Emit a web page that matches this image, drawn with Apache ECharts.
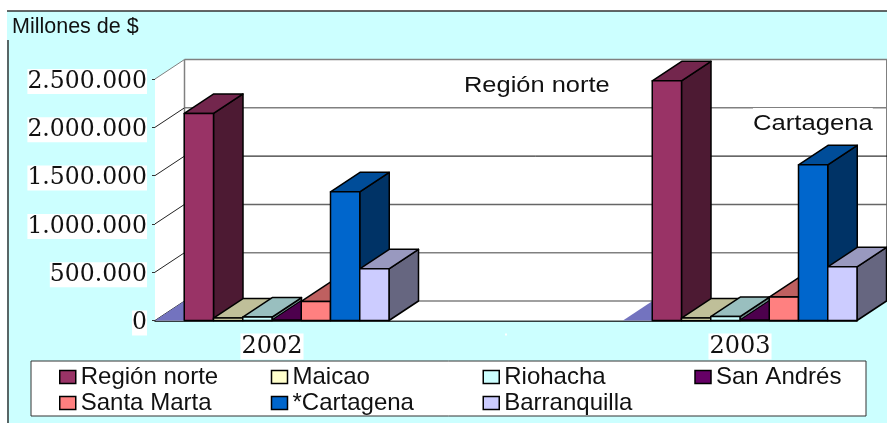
<!doctype html>
<html>
<head>
    <meta charset="utf-8">
    <title>Millones de $</title>
    <style>
        html, body { margin: 0; padding: 0; background: #fff; }
        #chart { width: 887px; height: 423px; }
    </style>
</head>
<body>
<div id="chart"></div>
<script src="https://cdn.jsdelivr.net/npm/echarts@6/dist/echarts.min.js"></script>
<script>
    // datos (la categoria central va vacia)
    var categories = ['2002', '', '2003'];
    var yTicks = [0, 500000, 1000000, 1500000, 2000000, 2500000];
    var yTickLabels = ['0', '500.000', '1.000.000', '1.500.000', '2.000.000', '2.500.000'];

    var sinNombre = [0, null, 0];
    var regionNorte = [2143000, null, 2481000];
    var maicao = [25000, null, 25000];
    var riohacha = [35000, null, 41000];
    var sanAndres = [5000, null, 5000];
    var santaMarta = [197000, null, 242000];
    var cartagena = [1332000, null, 1612000];
    var barranquilla = [535000, null, 556000];

    var legendNames = ['Región norte', 'Maicao', 'Riohacha', 'San Andrés', 'Santa Marta', '*Cartagena', 'Barranquilla'];

    // perspectiva falsa de Excel
    var depthX = 29.5;
    var depthY = -19.5;
    var wallRight = 887;
    var gridColors = ['#808080', '#808080', '#666', '#000', '#808080', '#808080'];

    var chart = echarts.init(document.getElementById('chart'));

    function renderWall(params, api) {
        var p = api.coord([0, api.value(0)]);
        var x0 = params.coordSys.x;
        var y = p[1];
        var children = [];
        var lineW = params.dataIndex === 3 ? 1 : 1.5;
        children.push({
            type: 'line',
            shape: {x1: x0, y1: y, x2: x0 + depthX, y2: y + depthY},
            style: {stroke: params.dataIndex === 5 ? '#808080' : '#222', lineWidth: 1}
        });
        children.push({
            type: 'line',
            shape: {x1: x0 + depthX, y1: y + depthY, x2: wallRight, y2: y + depthY},
            style: {stroke: gridColors[params.dataIndex], lineWidth: lineW}
        });
        return {type: 'group', children: children};
    }

    function renderWallFaces(params, api) {
        var s = params.coordSys;
        var b = s.y + s.height;
        return {
            type: 'group',
            children: [
                {type: 'polygon', shape: {points: [[s.x, b], [s.x + depthX, b + depthY], [wallRight, b + depthY], [wallRight, s.y + depthY], [s.x + depthX, s.y + depthY], [s.x, s.y]]}, style: {fill: '#fff'}},
                {type: 'polygon', shape: {points: [[s.x, b], [s.x + s.width, b], [wallRight, b + depthY], [s.x + depthX, b + depthY]]}, style: {fill: '#fff'}},
                {type: 'line', shape: {x1: s.x + depthX, y1: s.y + depthY, x2: s.x + depthX, y2: b + depthY}, style: {stroke: '#808080', lineWidth: 1.5}},
                {type: 'line', shape: {x1: wallRight - 0.5, y1: s.y + depthY, x2: wallRight - 0.5, y2: b + depthY}, style: {stroke: '#808080', lineWidth: 1}}
            ]
        };
    }

    function makeBars(name, values, slot, front, top, side, lineW) {
        return {
            name: name,
            type: 'custom',
            z: 3,
            itemStyle: {color: front},
            encode: {x: 0, y: 1},
            data: values.map(function (v, i) { return [i, v]; }),
            renderItem: function (params, api) {
                if (api.value(1) == null || isNaN(api.value(1))) {
                    return;
                }
                var w = api.size([1, 0])[0] / 8;
                var base = api.coord([api.value(0), 0]);
                var head = api.coord([api.value(0), api.value(1)]);
                var x1 = base[0] - 4 * w + slot * w;
                var x2 = x1 + w;
                var y0 = base[1];
                var y1 = head[1];
                var edge = {stroke: '#000', lineWidth: lineW, lineJoin: 'round'};
                return {
                    type: 'group',
                    children: [
                        {type: 'polygon', shape: {points: [[x2, y0], [x2 + depthX, y0 + depthY], [x2 + depthX, y1 + depthY], [x2, y1]]}, style: Object.assign({fill: side}, edge)},
                        {type: 'polygon', shape: {points: [[x1, y1], [x2, y1], [x2 + depthX, y1 + depthY], [x1 + depthX, y1 + depthY]]}, style: Object.assign({fill: top}, edge)},
                        {type: 'polygon', shape: {points: [[x1, y0], [x2, y0], [x2, y1], [x1, y1]]}, style: Object.assign({fill: front}, edge)}
                    ]
                };
            }
        };
    }

    var option = {
        animation: false,
        backgroundColor: '#fff',
        textStyle: {fontFamily: '"Liberation Sans", sans-serif'},
        title: {
            text: 'Millones de $',
            left: 12,
            top: 16,
            padding: 0,
            textStyle: {fontFamily: '"Liberation Sans", sans-serif', fontSize: 21.5, fontWeight: 'normal', color: '#111'}
        },
        grid: {left: 155, right: 30, top: 79, bottom: 102.5},
        legend: {
            left: 59,
            top: 364,
            width: 850,
            padding: 0,
            itemGap: 0,
            itemWidth: 16,
            itemHeight: 13,
            icon: 'rect',
            data: legendNames,
            itemStyle: {borderColor: '#000', borderWidth: 1.5},
            formatter: function (name) { return '{a|' + name + '}'; },
            textStyle: {
                rich: {a: {width: 190, height: 26, lineHeight: 26, fontSize: 24, color: '#111', fontFamily: '"Liberation Sans", sans-serif'}}
            }
        },
        xAxis: {
            type: 'category',
            data: categories,
            axisLine: {lineStyle: {color: '#000', width: 1.5}},
            axisTick: {length: 3, lineStyle: {color: '#333'}},
            axisLabel: {
                margin: 13,
                color: '#111',
                fontSize: 24,
                fontFamily: '"DejaVu Serif", serif',
                backgroundColor: '#fff',
                padding: [1, 1]
            }
        },
        yAxis: {
            type: 'value',
            min: 0,
            max: 2500000,
            interval: 500000,
            splitLine: {show: false},
            axisLine: {show: true, lineStyle: {color: '#666', width: 1}},
            axisTick: {show: true, length: 3, lineStyle: {color: '#333'}},
            axisLabel: {
                margin: 8,
                // la linea vacia de arriba baja el texto unos 2px respecto a la marca
                formatter: function (v) { return '{s| }\n{a|' + yTickLabels[yTicks.indexOf(v)] + '}'; },
                rich: {
                    s: {fontSize: 1, height: 5, lineHeight: 5},
                    a: {
                        color: '#111',
                        fontSize: 23.5,
                        fontFamily: '"DejaVu Serif", serif',
                        backgroundColor: '#fff',
                        height: 25,
                        lineHeight: 25
                    }
                }
            }
        },
        graphic: [
            {type: 'rect', z: -5, shape: {x: 7, y: 11, width: 880, height: 412}, style: {fill: '#ccffff'}},
            {type: 'line', z: -4, shape: {x1: 7, y1: 11, x2: 887, y2: 11}, style: {stroke: '#333', lineWidth: 1.5}},
            {type: 'line', z: -4, shape: {x1: 8, y1: 40, x2: 8, y2: 423}, style: {stroke: '#333', lineWidth: 1.5}},
            {type: 'rect', z: -3, shape: {x: 31, y: 361, width: 835, height: 55}, style: {fill: '#fff', stroke: '#333', lineWidth: 1}},
            {type: 'text', z: 10, x: 464, y: 74, style: {text: 'Región norte', fontFamily: '"Liberation Sans", sans-serif', fontSize: 22.5, fill: '#111'}, scaleX: 1.13},
            {type: 'text', z: 10, x: 753, y: 108, style: {text: 'Cartagena', fontFamily: '"Liberation Sans", sans-serif', fontSize: 22.5, fill: '#111', backgroundColor: '#fff', padding: [4, 0, 0, 0]}, scaleX: 1.14}
        ],
        series: [
            {
                type: 'custom',
                name: 'paredes',
                z: 1,
                encode: {y: 0},
                data: [[0]],
                renderItem: renderWallFaces
            },
            {
                type: 'custom',
                name: 'rejilla',
                z: 2,
                encode: {y: 0},
                data: yTicks.map(function (t) { return [t]; }),
                renderItem: renderWall
            },
            makeBars('sin nombre', sinNombre, 0, '#9999ff', '#7373bf', '#4d4d80', 0),
            makeBars('Región norte', regionNorte, 1, '#993366', '#73264d', '#4d1a33', 1.5),
            makeBars('Maicao', maicao, 2, '#ffffcc', '#bfbf99', '#808066', 1.5),
            makeBars('Riohacha', riohacha, 3, '#ccffff', '#99bfbf', '#668080', 1.5),
            makeBars('San Andrés', sanAndres, 4, '#660066', '#4d004d', '#330033', 1),
            makeBars('Santa Marta', santaMarta, 5, '#ff8080', '#bf6060', '#804040', 1.5),
            makeBars('*Cartagena', cartagena, 6, '#0066cc', '#004d99', '#003366', 1.5),
            makeBars('Barranquilla', barranquilla, 7, '#ccccff', '#9999bf', '#666680', 1.5)
        ]
    };
    chart.setOption(option);
</script>
</body>
</html>
